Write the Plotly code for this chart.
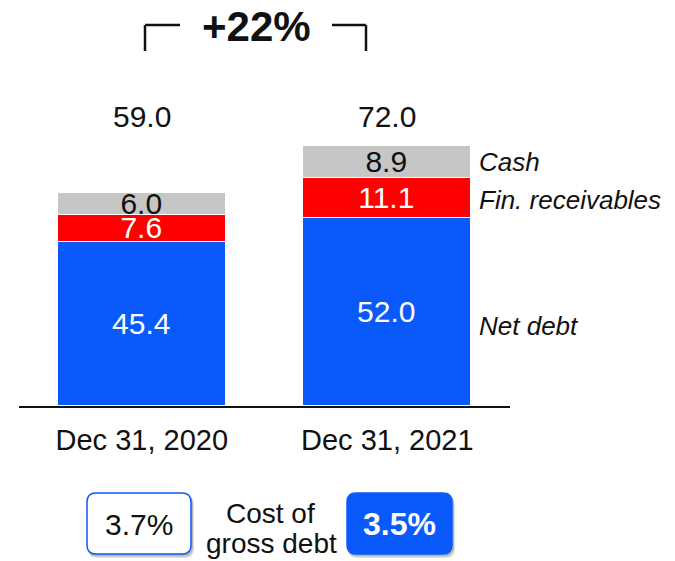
import plotly.graph_objects as go

categories = ["Dec 31, 2020", "Dec 31, 2021"]
net_debt = [45.4, 52.0]
fin_receivables = [7.6, 11.1]
cash = [6.0, 8.9]
series_names = ["Net debt", "Fin. receivables", "Cash"]
cost_of_gross_debt = [3.7, 3.5]
cost_label = ["Cost of", "gross debt"]

totals = [a + b + c for a, b, c in zip(net_debt, fin_receivables, cash)]
growth = round((totals[1] / totals[0] - 1) * 100)

W, H = 675, 561
L, R, T, B = 19, 165, 100, 155
PW, PH = W - L - R, H - T - B
PX_PER_UNIT = 3.61

def px(x):
    return (x - L) / PW

def py(y):
    return (H - B - y) / PH

FONT = "Liberation Sans, Arial, sans-serif"
BLUE = "#0A5AFB"
RED = "#FF0000"
GRAY = "#C6C6C6"

fig = go.Figure()
bar_w = 168 / (PW / 2)
for vals, name, color, tcolor in [
    (net_debt, series_names[0], BLUE, "white"),
    (fin_receivables, series_names[1], RED, "white"),
    (cash, series_names[2], GRAY, "#111111"),
]:
    fig.add_trace(go.Bar(
        x=categories, y=vals, name=name, width=bar_w,
        marker=dict(color=color, line=dict(color="white", width=1.5)),
        text=[f"{v:.1f}" for v in vals], textposition="inside",
        insidetextanchor="middle", textangle=0,
        textfont=dict(family=FONT, size=30, color=tcolor),
        showlegend=False, hoverinfo="skip",
    ))

annotations = []
# totals
for c, t in zip(categories, totals):
    annotations.append(dict(x=c, y=(H - B - 116) / PX_PER_UNIT, xref="x", yref="y",
                            text=f"{t:.1f}", showarrow=False,
                            xanchor="center", yanchor="middle",
                            font=dict(family=FONT, size=30, color="#111111")))
# side labels
side_y = [162, 200, 326]
for name, yy in zip(series_names[::-1], side_y):
    annotations.append(dict(x=px(477), y=py(yy), xref="paper", yref="paper",
                            text=f"<i>{name}</i>", showarrow=False,
                            xanchor="left", yanchor="middle",
                            font=dict(family=FONT, size=26, color="#111111")))
# growth
annotations.append(dict(x=px(256), y=py(27), xref="paper", yref="paper",
                        text=f"<b>+{growth}%</b>", showarrow=False,
                        xanchor="center", yanchor="middle",
                        font=dict(family=FONT, size=42, color="#111111")))
# cost of gross debt labels
annotations.append(dict(x=px(270), y=py(513), xref="paper", yref="paper",
                        text=cost_label[0], showarrow=False,
                        xanchor="center", yanchor="middle",
                        font=dict(family=FONT, size=28, color="#111111")))
annotations.append(dict(x=px(271), y=py(543), xref="paper", yref="paper",
                        text=cost_label[1], showarrow=False,
                        xanchor="center", yanchor="middle",
                        font=dict(family=FONT, size=28, color="#111111")))
annotations.append(dict(x=px(139), y=py(524), xref="paper", yref="paper",
                        text=f"{cost_of_gross_debt[0]:.1f}%", showarrow=False,
                        xanchor="center", yanchor="middle",
                        font=dict(family=FONT, size=30, color="#111111")))
annotations.append(dict(x=px(399.5), y=py(524), xref="paper", yref="paper",
                        text=f"<b>{cost_of_gross_debt[1]:.1f}%</b>", showarrow=False,
                        xanchor="center", yanchor="middle",
                        font=dict(family=FONT, size=32, color="white")))


def rrect(x0, y0, x1, y1, r):
    pts = [
        ("M", [(x0 + r, y0)]), ("L", [(x1 - r, y0)]), ("Q", [(x1, y0), (x1, y0 + r)]),
        ("L", [(x1, y1 - r)]), ("Q", [(x1, y1), (x1 - r, y1)]),
        ("L", [(x0 + r, y1)]), ("Q", [(x0, y1), (x0, y1 - r)]),
        ("L", [(x0, y0 + r)]), ("Q", [(x0, y0), (x0 + r, y0)]),
    ]
    s = ""
    for cmd, ps in pts:
        s += cmd + " " + " ".join(f"{px(a):.5f},{py(b):.5f}" for a, b in ps) + " "
    return s + "Z"

shapes = []
# bracket
line = dict(color="#111111", width=2.5)
for (xa, ya, xb, yb) in [(145, 51, 145, 25), (145, 25, 180, 25),
                         (332, 25, 366, 25), (366, 25, 366, 51)]:
    shapes.append(dict(type="line", xref="paper", yref="paper",
                       x0=px(xa), y0=py(ya), x1=px(xb), y1=py(yb), line=line))
# boxes with shadow
for (x0, x1, fill, border) in [(87, 191, "white", BLUE), (347, 452, BLUE, BLUE)]:
    shapes.append(dict(type="path", xref="paper", yref="paper",
                       path=rrect(x0 + 1, 494 + 2, x1 + 3, 554 + 4, 9),
                       fillcolor="rgba(0,0,0,0.12)", line=dict(width=0), layer="below"))
    shapes.append(dict(type="path", xref="paper", yref="paper",
                       path=rrect(x0 + 1, 494 + 1, x1 + 2, 554 + 2.5, 9),
                       fillcolor="rgba(0,0,0,0.18)", line=dict(width=0), layer="below"))
    shapes.append(dict(type="path", xref="paper", yref="paper",
                       path=rrect(x0, 493, x1, 554, 9),
                       fillcolor=fill, line=dict(color=border, width=1.5)))

fig.update_layout(
    width=W, height=H, barmode="stack", bargap=0,
    margin=dict(l=L, r=R, t=T, b=B, pad=0),
    plot_bgcolor="white", paper_bgcolor="white",
    font=dict(family=FONT, color="#111111"),
    xaxis=dict(showline=True, linecolor="#111111", linewidth=1.5, showgrid=False,
               zeroline=False, ticks="outside", ticklen=7,
               tickcolor="rgba(0,0,0,0)", tickfont=dict(family=FONT, size=29, color="#111111"),
               fixedrange=True),
    yaxis=dict(visible=False, range=[0, PH / PX_PER_UNIT], fixedrange=True),
    uniformtext=dict(minsize=30, mode="show"),
    annotations=annotations, shapes=shapes,
)

fig.write_html("out.html", config={"displayModeBar": False},
               post_script="document.body.style.margin='0';document.body.style.overflow='hidden';")
